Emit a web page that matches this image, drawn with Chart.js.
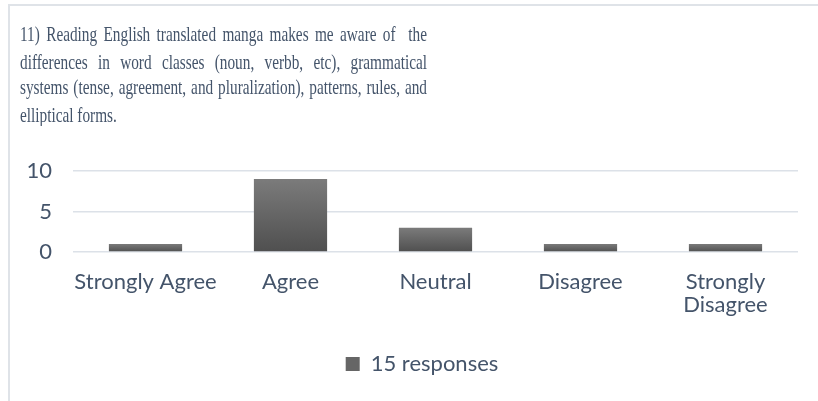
<!DOCTYPE html>
<html><head><meta charset="utf-8">
<script src="https://cdn.jsdelivr.net/npm/chart.js@4"></script>
<style>
html,body{margin:0;padding:0;background:#fff;}
#wrap{position:relative;width:818px;height:401px;overflow:hidden;background:#fff;}
#frame{position:absolute;left:8px;top:4px;width:900px;height:500px;border-left:2px solid #dfe3e8;border-top:2px solid #dfe3e8;}
#title{position:absolute;left:20px;top:20.5px;width:407px;font-family:"Liberation Serif";font-size:15.3px;line-height:19.7px;color:#44546A;transform:scaleY(1.36);transform-origin:0 0;}
#title div{text-align:justify;text-align-last:justify;}
#title div.last{text-align-last:left;}
canvas{position:absolute;left:0;top:0;}
</style></head><body>
<div id="wrap">
<div id="frame"></div>
<canvas id="c" width="818" height="401"></canvas>
<div id="title"></div>
</div>
<script>
const titleLines = [
  "11) Reading English translated manga makes me aware of \u00a0the",
  "differences in word classes (noun, verbb, etc), grammatical",
  "systems (tense, agreement, and pluralization), patterns, rules, and",
  "elliptical forms."
];
const categories = ["Strongly Agree", "Agree", "Neutral", "Disagree", ["Strongly", "Disagree"]];
const responses = [1, 9, 3, 1, 1];
const seriesLabel = "15 responses";
const yTicks = [0, 5, 10];

const tEl = document.getElementById('title');
titleLines.forEach((t, i) => {
  const d = document.createElement('div');
  d.textContent = t;
  if (i === titleLines.length - 1) d.className = 'last';
  tEl.appendChild(d);
});

const textColor = '#44546A';
const labelFont = {family: 'Lato', size: 22, lineHeight: '23px'};

const legendShift = {
  id: 'legendShift',
  afterLayout(chart) {
    const l = chart.legend;
    if (l) { l.left += 23; l.right += 23; }
  }
};

new Chart(document.getElementById('c'), {
  type: 'bar',
  data: {
    labels: categories,
    datasets: [{
      label: seriesLabel,
      data: responses,
      borderWidth: 0,
      categoryPercentage: 1,
      barPercentage: 0.505,
      backgroundColor: (ctx) => {
        const chart = ctx.chart;
        if (!chart.chartArea || ctx.type !== 'data' || !ctx.parsed) return '#666666';
        const ys = chart.scales.y;
        const top = ys.getPixelForValue(ctx.parsed.y);
        const bot = ys.getPixelForValue(0);
        if (!isFinite(top) || !isFinite(bot) || top === bot) return '#666666';
        const g = chart.ctx.createLinearGradient(0, top, 0, bot);
        g.addColorStop(0, '#7b7b7b');
        g.addColorStop(1, '#4f4f4f');
        return g;
      }
    }]
  },
  plugins: [legendShift],
  options: {
    responsive: false,
    animation: false,
    layout: {padding: {top: 171, left: 0, right: 20, bottom: 16}},
    plugins: {
      title: {display: false},
      tooltip: {enabled: false},
      legend: {
        position: 'bottom',
        labels: {
          boxWidth: 14, boxHeight: 14, padding: 10,
          color: textColor, font: {family: 'Lato', size: 22},
          generateLabels: (chart) => {
            const items = Chart.defaults.plugins.legend.labels.generateLabels(chart);
            items.forEach(it => { it.fillStyle = '#666666'; it.strokeStyle = '#666666'; it.lineWidth = 0; });
            return items;
          }
        }
      }
    },
    scales: {
      x: {
        grid: {display: false},
        border: {display: false},
        ticks: {color: textColor, font: labelFont, padding: 10, maxRotation: 0, autoSkip: false},
        afterFit: (s) => { s.height = 91; }
      },
      y: {
        min: yTicks[0],
        max: yTicks[yTicks.length - 1],
        afterBuildTicks: (s) => { s.ticks = yTicks.map(v => ({value: v})); },
        grid: {color: '#dce1e8', lineWidth: 1.5, drawTicks: false},
        border: {display: false},
        ticks: {color: textColor, font: {family: 'Lato', size: 22}, padding: 21},
        afterFit: (s) => { s.width = 73; }
      }
    }
  }
});
</script>
</body></html>
